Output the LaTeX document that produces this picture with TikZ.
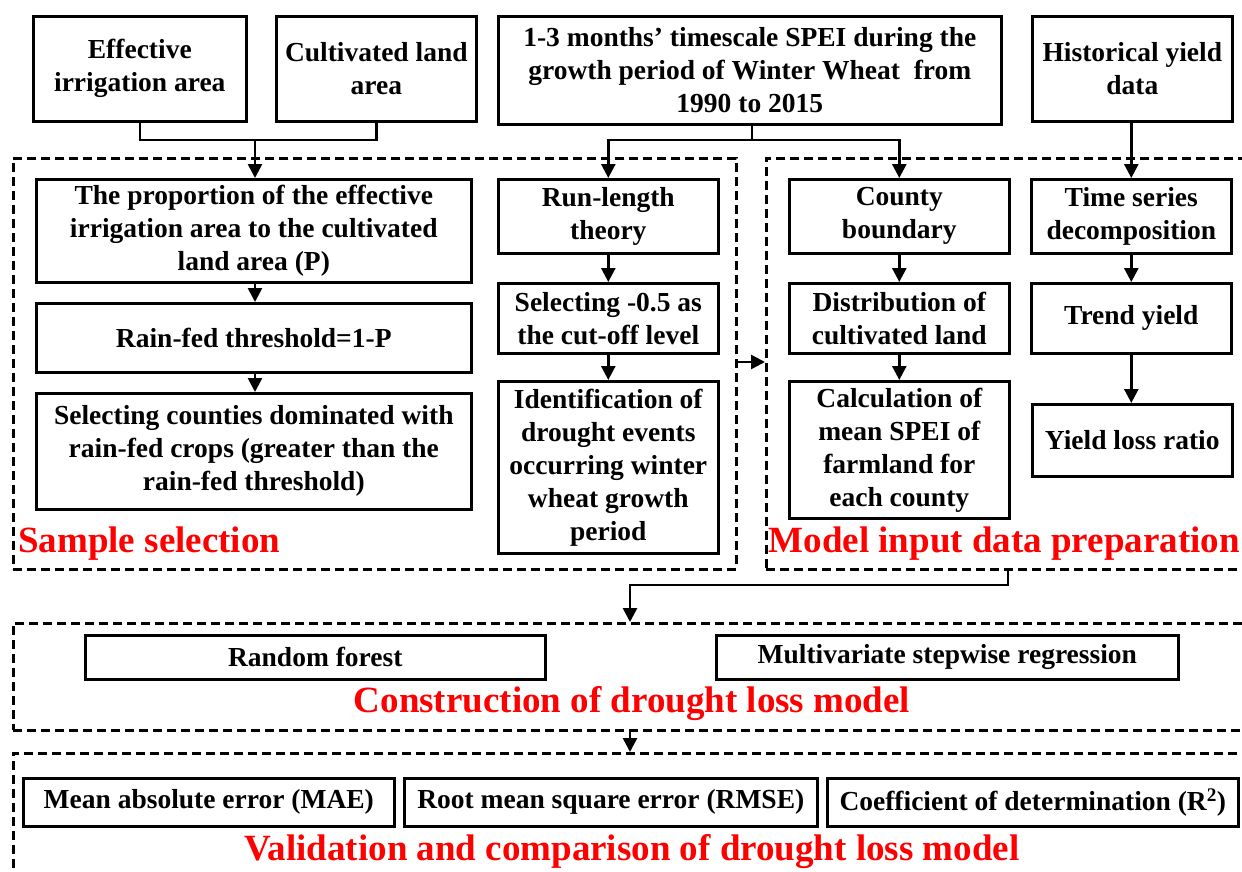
\documentclass[tikz,border=0pt]{standalone}
\usepackage{fontspec}
\setmainfont{Liberation Serif}
\usetikzlibrary{arrows.meta}
\begin{document}
\begin{tikzpicture}[x=1pt,y=-1pt,
  box/.style={draw, line width=2.6pt, anchor=north west, align=center, inner sep=0pt,
    font=\fontsize{27.5}{33}\selectfont\bfseries},
  dbox/.style={draw, line width=2.6pt, dash pattern=on 9pt off 5pt, anchor=north west, inner sep=0pt},
  lab/.style={text=red, font=\fontsize{37}{40}\selectfont\bfseries, inner sep=0pt},
  arr/.style={line width=2.6pt, -{Triangle[length=14pt,width=14pt]}},
  ln/.style={line width=2.6pt}]
\useasboundingbox (0,0) rectangle (1242,872);
% dashed groups
\node[dbox, minimum width=723pt, minimum height=411pt] (sample) at (12,157) {};
\node[dbox, minimum width=490pt, minimum height=411pt] (model) at (765,157) {};
\node[dbox, minimum width=1240pt, minimum height=107pt] (constr) at (12,622) {};
\node[dbox, minimum width=1240pt, minimum height=130pt] (valid) at (12,752) {};
% top row
\node[box, minimum width=213pt, minimum height=105pt] (eff) at (32,15) {Effective\\irrigation area};
\node[box, minimum width=200pt, minimum height=105pt] (cult) at (275,15) {Cultivated land\\area};
\node[box, minimum width=503pt, minimum height=108pt] (spei) at (497,15) {1-3 months' timescale SPEI during the\\growth period of Winter Wheat\ \ from\\1990 to 2015};
\node[box, minimum width=200pt, minimum height=105pt] (hist) at (1031,15) {Historical yield\\data};
% sample selection
\node[box, minimum width=435pt, minimum height=103pt] (prop) at (35,178) {The proportion of the effective\\irrigation area to the cultivated\\land area (P)};
\node[box, minimum width=435pt, minimum height=69pt] (rain) at (35,302) {Rain-fed threshold=1-P};
\node[box, minimum width=435pt, minimum height=116pt] (selc) at (35,392) {Selecting counties dominated with\\rain-fed crops (greater than the\\rain-fed threshold)};
\node[box, minimum width=220pt, minimum height=74pt] (run) at (497,178) {Run-length\\theory};
\node[box, minimum width=220pt, minimum height=70pt] (cut) at (497,282) {Selecting -0.5 as\\the cut-off level};
\node[box, minimum width=220pt, minimum height=172pt] (ident) at (497,380) {Identification of\\drought events\\occurring winter\\wheat growth\\period};
% model input
\node[box, minimum width=220pt, minimum height=74pt] (county) at (788,178) {County\\boundary};
\node[box, minimum width=220pt, minimum height=70pt] (distr) at (788,282) {Distribution of\\cultivated land};
\node[box, minimum width=220pt, minimum height=137pt] (calc) at (788,380) {Calculation of\\mean SPEI of\\farmland for\\each county};
\node[box, minimum width=200pt, minimum height=74pt] (time) at (1030,178) {Time series\\decomposition};
\node[box, minimum width=200pt, minimum height=70pt] (trend) at (1030,282) {Trend yield};
\node[box, minimum width=200pt, minimum height=72pt] (ylr) at (1031,403) {Yield loss ratio};
% construction
\node[box, minimum width=460pt, minimum height=44pt] (rf) at (84,634) {Random forest};
\node[box, minimum width=462pt, minimum height=44pt] (msr) at (715,634) {Multivariate stepwise regression};
% validation
\node[box, minimum width=371pt, minimum height=48pt] (mae) at (22,777) {Mean absolute error (MAE)};
\node[box, minimum width=413pt, minimum height=48pt] (rmse) at (403,777) {Root mean square error (RMSE)};
\node[box, minimum width=411pt, minimum height=48pt] (r2) at (826,777) {Coefficient of determination (R\textsuperscript{2})};
% labels
\node[lab, anchor=base west] (labs) at (18,552) {Sample selection};
\node[lab, anchor=base east] (labm) at (1240,552) {Model input data preparation};
\node[lab, anchor=base] (labc) at (632,712) {Construction of drought loss model};
\node[lab, anchor=base] (labv) at (632,860) {Validation and comparison of drought loss model};
% connectors
\coordinate (j1) at (255,140);
\coordinate (j2) at (752,140);
\draw[ln] (eff.south) |- (j1) -| (cult.south);
\draw[arr] (j1) -- (j1 |- prop.north);
\draw[arr] (prop.south -| j1) -- (rain.north -| j1);
\draw[arr] (rain.south -| j1) -- (selc.north -| j1);
\draw[ln] (spei.south -| j2) -- (j2);
\draw[arr] (j2) -| (run.north);
\draw[arr] (j2) -| (county.north);
\draw[arr] (run) -- (cut);
\draw[arr] (cut) -- (ident);
\draw[arr] (county) -- (distr);
\draw[arr] (distr) -- (calc);
\draw[arr] (hist.south -| time.north) -- (time.north);
\draw[arr] (time) -- (trend);
\draw[arr] (trend.south) -- (ylr.north -| trend.south);
\draw[arr] (sample.east |- 0,362) -- (model.west |- 0,362);
\coordinate (j3) at (1008,585);
\coordinate (j4) at (630,585);
\draw[arr] (model.south -| j3) -- (j3) -- (j4) -- (j4 |- constr.north);
\draw[arr] (constr.south -| j4) -- (valid.north -| j4);
\end{tikzpicture}
\end{document}
